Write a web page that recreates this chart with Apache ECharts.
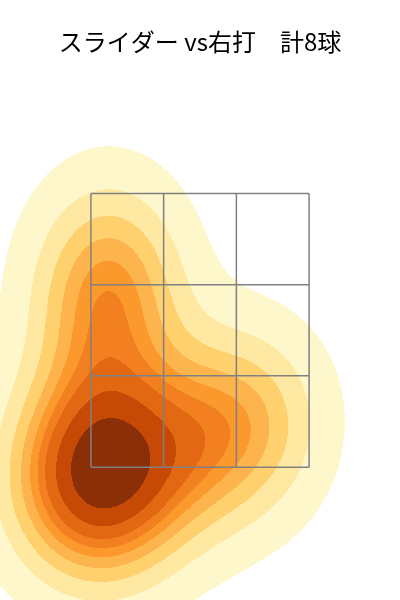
<!DOCTYPE html>
<html>
<head>
<meta charset="utf-8">
<script src="https://cdn.jsdelivr.net/npm/echarts@6/dist/echarts.min.js"></script>
<style>
  html, body { margin: 0; padding: 0; background: #fff; }
  #chart { width: 400px; height: 600px; }
</style>
</head>
<body>
<div id="chart"></div>
<script>
// 投球位置 (cm)
const pitchX = [-17.8, -18.8, -21.4, -27.3, -18.4, -12.5, 0.0, 10.9];
const pitchY = [84.3, 73.0, 49.3, 40.6, 37.6, 44.5, 49.7, 53.6];
// ストライクゾーン 3x3
const zoneX = [-21.6, -7.2, 7.2, 21.6];
const zoneY = [44.3, 62.4, 80.4, 98.5];
const titleText = 'スライダー vs右打\u3000計8球';

// 等確率レベル (seaborn kdeplot と同じ: levels=10, thresh=0.05)
const levelCount = 10;
const thresh = 0.05;
const bwAdjust = 1.15;
const bandColors = ['#fff7cc', '#fee8a2', '#fed06e', '#fdb44d', '#fb992d',
  '#f27f20', '#e26912', '#c64a06', '#8a2f07'];

const xMin = -39.6, xMax = 39.6, yMin = 18, yMax = 136.8;
const cols = 400, rows = 600;

// gaussian_kde (Scott)
function makeKde(xs, ys) {
  const n = xs.length;
  let mx = 0, my = 0;
  for (let i = 0; i < n; i++) { mx += xs[i]; my += ys[i]; }
  mx /= n; my /= n;
  let sxx = 0, syy = 0, sxy = 0;
  for (let i = 0; i < n; i++) {
    sxx += (xs[i] - mx) * (xs[i] - mx);
    syy += (ys[i] - my) * (ys[i] - my);
    sxy += (xs[i] - mx) * (ys[i] - my);
  }
  const f2 = Math.pow(n, -1 / 3) * bwAdjust * bwAdjust;
  const cxx = sxx / (n - 1) * f2, cyy = syy / (n - 1) * f2, cxy = sxy / (n - 1) * f2;
  const det = cxx * cyy - cxy * cxy;
  const ixx = cyy / det, iyy = cxx / det, ixy = -cxy / det;
  return {
    bwx: Math.sqrt(cxx),
    bwy: Math.sqrt(cyy),
    f: function (x, y) {
      let s = 0;
      for (let i = 0; i < n; i++) {
        const dx = x - xs[i], dy = y - ys[i];
        s += Math.exp(-0.5 * (dx * dx * ixx + 2 * dx * dy * ixy + dy * dy * iyy));
      }
      return s;
    }
  };
}

const kde = makeKde(pitchX, pitchY);
const gx0 = Math.min(...pitchX) - 3 * kde.bwx, gx1 = Math.max(...pitchX) + 3 * kde.bwx;
const gy0 = Math.min(...pitchY) - 3 * kde.bwy, gy1 = Math.max(...pitchY) + 3 * kde.bwy;

// レベル計算
let vals = [];
for (let i = 0; i < 200; i++) {
  for (let j = 0; j < 200; j++) {
    vals.push(kde.f(gx0 + (gx1 - gx0) * i / 199, gy0 + (gy1 - gy0) * j / 199));
  }
}
vals.sort((a, b) => b - a);
let total = 0;
vals.forEach(v => total += v);
let cum = [], acc = 0;
vals.forEach(v => { acc += v; cum.push(acc / total); });
const levels = [];
for (let k = 0; k < levelCount; k++) {
  const q = thresh + (1 - thresh) * k / (levelCount - 1);
  const target = 1 - q;
  let idx = 0;
  while (idx < cum.length && cum[idx] < target - 1e-12) idx++;
  levels.push(vals[Math.min(idx, vals.length - 1)]);
}

// 塗りつぶし (行ごとのラン)
const dx = (xMax - xMin) / cols, dy = (yMax - yMin) / rows;
const runs = [];
for (let r = 0; r < rows; r++) {
  const yTop = yMax - r * dy, yc = yTop - dy / 2;
  let cur = -1, start = 0;
  for (let c = 0; c <= cols; c++) {
    let b = -1;
    if (c < cols) {
      const xc = xMin + (c + 0.5) * dx;
      if (xc >= gx0 && xc <= gx1 && yc >= gy0 && yc <= gy1) {
        const v = kde.f(xc, yc);
        if (v > levels[0]) {
          b = 0;
          while (b < levelCount - 2 && v > levels[b + 1]) b++;
        }
      }
    }
    if (b !== cur) {
      if (cur >= 0) runs.push([xMin + start * dx, xMin + c * dx, yTop, yTop - dy, cur]);
      cur = b; start = c;
    }
  }
}

const zoneLines = [];
zoneX.forEach(x => zoneLines.push([x, zoneY[0], x, zoneY[zoneY.length - 1]]));
zoneY.forEach(y => zoneLines.push([zoneX[0], y, zoneX[zoneX.length - 1], y]));

let myChart = echarts.init(document.getElementById('chart'));
let option = {
  animation: false,
  title: {
    text: titleText,
    left: 'center',
    top: 25,
    textStyle: {
      fontFamily: 'Noto Sans CJK JP',
      fontSize: 24,
      fontWeight: 'normal',
      color: '#000'
    }
  },
  grid: { left: 0, right: 0, top: 0, bottom: 0 },
  xAxis: { type: 'value', min: xMin, max: xMax, show: false },
  yAxis: { type: 'value', min: yMin, max: yMax, show: false },
  series: [{
    type: 'custom',
    silent: true,
    progressive: 0,
    encode: { x: [0, 1], y: [2, 3] },
    renderItem: function (params, api) {
      const p0 = api.coord([api.value(0), api.value(2)]);
      const p1 = api.coord([api.value(1), api.value(3)]);
      return {
        type: 'rect',
        shape: { x: p0[0], y: p0[1], width: p1[0] - p0[0], height: p1[1] - p0[1] },
        style: { fill: bandColors[api.value(4)] }
      };
    },
    data: runs
  }, {
    type: 'custom',
    silent: true,
    encode: { x: [0, 2], y: [1, 3] },
    renderItem: function (params, api) {
      const p0 = api.coord([api.value(0), api.value(1)]);
      const p1 = api.coord([api.value(2), api.value(3)]);
      return {
        type: 'line',
        shape: { x1: p0[0], y1: p0[1], x2: p1[0], y2: p1[1] },
        style: { stroke: '#808080', lineWidth: 1.5 }
      };
    },
    data: zoneLines
  }]
};
myChart.setOption(option);
window.onresize = myChart.resize;
</script>
</body>
</html>
